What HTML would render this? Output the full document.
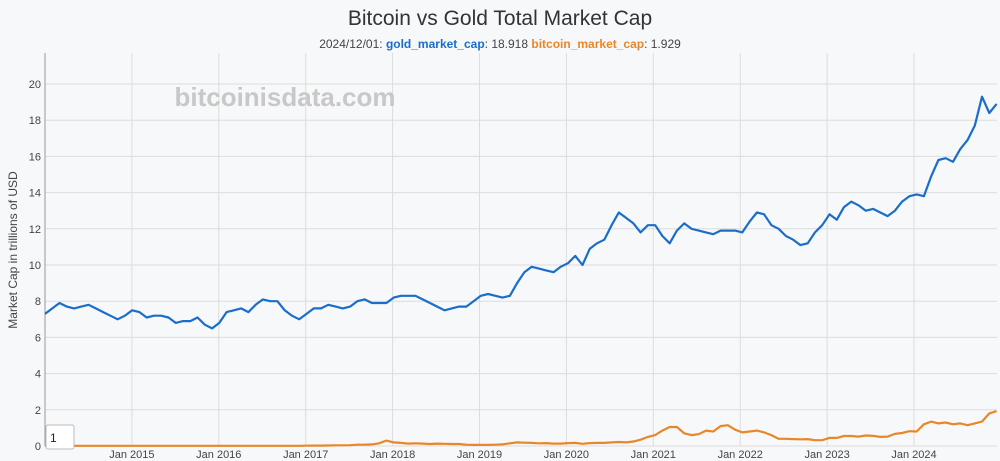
<!DOCTYPE html>
<html><head><meta charset="utf-8"><style>
body{margin:0;background:#f7f8f9;font-family:"Liberation Sans",sans-serif;}
svg{display:block}
</style></head><body>
<svg id="chart" width="1000" height="461" xmlns="http://www.w3.org/2000/svg">
<rect width="1000" height="461" fill="#f7f8f9"/>
<text x="500" y="25" text-anchor="middle" font-size="21" fill="#333">Bitcoin vs Gold Total Market Cap</text>
<text x="500" y="48" text-anchor="middle" font-size="12" fill="#444">2024/12/01: <tspan fill="#1a6ec9" font-weight="bold">gold_market_cap</tspan>: 18.918 <tspan fill="#e8872a" font-weight="bold">bitcoin_market_cap</tspan>: 1.929</text>
<g id="grid"></g>
<text x="285" y="106" text-anchor="middle" font-size="26" font-weight="bold" fill="#c8c8c8">bitcoinisdata.com</text>
<line x1="45" y1="53" x2="45" y2="446" stroke="#999"/>
<g id="series"></g>
<g id="ticks"></g>
<text transform="translate(17,250) rotate(-90)" text-anchor="middle" font-size="12" fill="#444">Market Cap in trillions of USD</text>
<rect x="46" y="425" width="28" height="24" fill="#fff" stroke="#bbb" rx="2"/>
<text x="50" y="442" font-size="12" fill="#222">1</text>
</svg>
<script>
const yTicks=[0,2,4,6,8,10,12,14,16,18,20];
const xTickYears=[2015,2016,2017,2018,2019,2020,2021,2022,2023,2024];
const startYear=2014;
const gold=[7.3,7.6,7.9,7.7,7.6,7.7,7.8,7.6,7.4,7.2,7.0,7.2,
7.5,7.4,7.1,7.2,7.2,7.1,6.8,6.9,6.9,7.1,6.7,6.5,
6.8,7.4,7.5,7.6,7.4,7.8,8.1,8.0,8.0,7.5,7.2,7.0,
7.3,7.6,7.6,7.8,7.7,7.6,7.7,8.0,8.1,7.9,7.9,7.9,
8.2,8.3,8.3,8.3,8.1,7.9,7.7,7.5,7.6,7.7,7.7,8.0,
8.3,8.4,8.3,8.2,8.3,9.0,9.6,9.9,9.8,9.7,9.6,9.9,
10.1,10.5,10.0,10.9,11.2,11.4,12.2,12.9,12.6,12.3,11.8,12.2,
12.2,11.6,11.2,11.9,12.3,12.0,11.9,11.8,11.7,11.9,11.9,11.9,
11.8,12.4,12.9,12.8,12.2,12.0,11.6,11.4,11.1,11.2,11.8,12.2,
12.8,12.5,13.2,13.5,13.3,13.0,13.1,12.9,12.7,13.0,13.5,13.8,
13.9,13.8,14.9,15.8,15.9,15.7,16.4,16.9,17.7,19.3,18.4,18.9];
const bitcoin=[0.01,0.01,0.01,0.01,0.01,0.01,0.01,0.01,0.01,0.01,0.01,0.01,
0.01,0.01,0.01,0.01,0.01,0.01,0.01,0.01,0.01,0.01,0.01,0.01,
0.01,0.01,0.01,0.01,0.01,0.01,0.01,0.01,0.01,0.01,0.01,0.01,
0.015,0.02,0.02,0.025,0.04,0.04,0.045,0.07,0.07,0.09,0.15,0.3,
0.2,0.17,0.13,0.15,0.13,0.11,0.13,0.12,0.11,0.11,0.07,0.06,
0.06,0.06,0.07,0.09,0.15,0.2,0.18,0.17,0.15,0.16,0.13,0.13,
0.16,0.17,0.12,0.16,0.17,0.17,0.2,0.22,0.2,0.25,0.35,0.5,
0.6,0.85,1.05,1.05,0.7,0.6,0.65,0.85,0.8,1.1,1.15,0.9,
0.75,0.8,0.85,0.75,0.6,0.4,0.4,0.38,0.37,0.38,0.32,0.32,
0.45,0.45,0.55,0.55,0.52,0.58,0.56,0.5,0.52,0.67,0.72,0.82,
0.8,1.2,1.35,1.25,1.3,1.2,1.25,1.15,1.25,1.35,1.8,1.93];
const NS='http://www.w3.org/2000/svg';
const x0=45,yrPx=86.9,yBase=446,yUnit=18.1,plotTop=53,plotRight=997;
function xs(t){return x0+(t-startYear)*yrPx;}
function ys(v){return yBase-v*yUnit;}
function mk(tag,a,p){const e=document.createElementNS(NS,tag);for(const k in a)e.setAttribute(k,a[k]);p.appendChild(e);return e;}
const gridG=document.getElementById('grid'),ticksG=document.getElementById('ticks'),seriesG=document.getElementById('series');
yTicks.forEach(v=>{
 const l=mk('line',{x1:x0,x2:plotRight,y1:ys(v),y2:ys(v),stroke:'#dcdcdc'},gridG);
 
 
 const t=mk('text',{x:x0-4,y:ys(v)+4,'text-anchor':'end','font-size':11,fill:'#444'},ticksG);
 t.textContent=v;
 
 
});
xTickYears.forEach(yr=>{
 const l=mk('line',{x1:xs(yr),x2:xs(yr),y1:plotTop,y2:yBase,stroke:'#dcdcdc'},gridG);
 
 
 const t=mk('text',{x:xs(yr),y:458,'text-anchor':'middle','font-size':11,fill:'#444'},ticksG);
 t.textContent='Jan '+yr;
 
 
});
function drawPath(arr,color,name){
 const n=arr.length;
 const d=arr.map((v,i)=>(i?'L':'M')+xs(startYear+i*(10.95/(n-1))).toFixed(1)+','+ys(v).toFixed(1)).join('');
 const p=mk('path',{d:d,fill:'none',stroke:color,'stroke-width':2.2,'stroke-linejoin':'round'},seriesG);
 
 
}
drawPath(bitcoin,'#e8872a','bitcoin-line');
drawPath(gold,'#1a6ec9','gold-line');
</script>
</body></html>
